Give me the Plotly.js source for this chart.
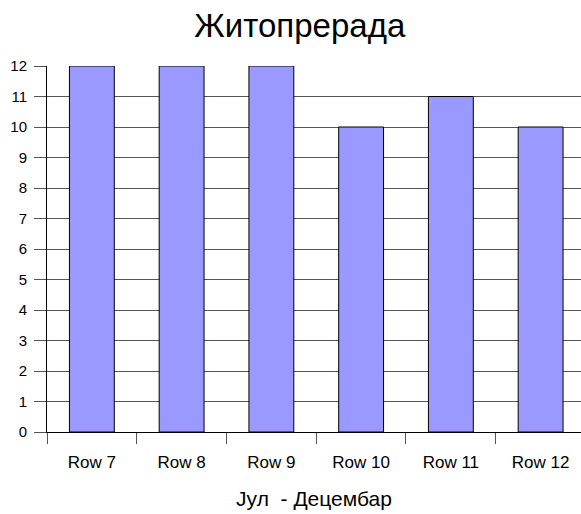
<!DOCTYPE html>
<html><head><meta charset="utf-8">
<script src="https://cdn.plot.ly/plotly-3.0.1.min.js"></script>
<style>body{margin:0;padding:0;background:#fff}#c{width:581px;height:514px}</style>
</head><body><div id="c"></div>
<script>
const categories = ["Row 7","Row 8","Row 9","Row 10","Row 11","Row 12"];
const values = [12, 12, 12, 10, 11, 10];
const yTicks = [0,1,2,3,4,5,6,7,8,9,10,11,12];
const chartTitle = "Житопрерада";
const xTitle = "Јул  - Децембар";

Plotly.newPlot("c", [{
  type: "bar", x: categories, y: values,
  marker: {color: "#9999ff", line: {color: "#000", width: 1}},
  hoverinfo: "none"
}], {
  width: 581, height: 514,
  margin: {l: 47, r: 0, t: 66, b: 82},
  paper_bgcolor: "#fff", plot_bgcolor: "#fff",
  font: {family: "Liberation Sans, Arial, sans-serif", color: "#000"},
  bargap: 0.5,
  showlegend: false,
  title: {text: chartTitle, x: 0.516, xanchor: "center", y: 0.950, yanchor: "middle", font: {size: 33, color: "#000"}},
  xaxis: {
    range: [-0.5, 5.45],
    tickson: "boundaries", ticks: "outside", ticklen: 11, tickcolor: "#555", tickwidth: 1,
    showline: true, linecolor: "#000", linewidth: 1, showgrid: false,
    tickfont: {size: 17}, ticklabelstandoff: 15,
    title: {text: xTitle, font: {size: 21}, standoff: 19}
  },
  yaxis: {
    range: [0, 12], tickvals: yTicks, ticktext: yTicks.map(String),
    ticks: "outside", ticklen: 12, tickcolor: "#555", tickwidth: 1,
    showgrid: true, gridcolor: "#555", gridwidth: 1,
    showline: true, linecolor: "#000", linewidth: 1, zeroline: false,
    tickfont: {size: 15}, ticklabelstandoff: 4
  }
}, {staticPlot: true});
</script></body></html>
